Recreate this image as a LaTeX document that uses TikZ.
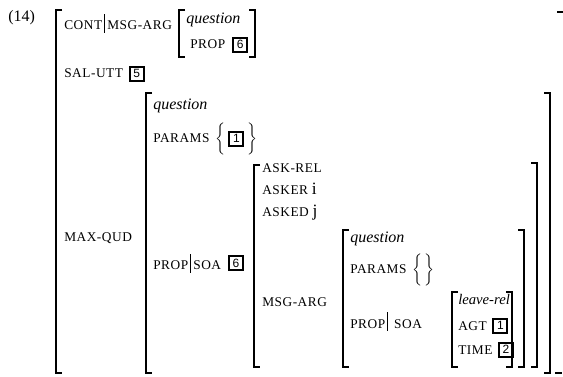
\documentclass[tikz,border=0pt]{standalone}
\usepackage{fontspec}
\setmainfont{Liberation Serif}
\setsansfont{Liberation Sans}
\newfontfamily\featfont[LetterSpace=4]{Liberation Serif}
\usetikzlibrary{positioning}
\newcommand\pth{\,\rule[-2pt]{0.5pt}{14pt}\,}
\newcommand\val[1]{{\rmfamily\fontsize{13}{15}\selectfont #1}}
\newcommand\lbrk[3]{\draw[brk] (#1+6,#2) -| (#1,#3) -- (#1+6,#3);}
\newcommand\rbrk[3]{\draw[brk] (#1-6,#2) -| (#1,#3) -- (#1-6,#3);}
\tikzset{
feat/.style={
    anchor=base west,
    inner sep=0pt,
    font=\featfont\fontsize{10}{12}\selectfont
},
typ/.style={
    anchor=base west,
    inner sep=0pt,
    font=\itshape\fontsize{12}{14}\selectfont
},
tag/.style={
    rectangle,
    draw,
    line width=1.5pt,
    inner sep=1pt,
    minimum size=10.5pt,
    font=\sffamily\fontsize{9}{10}\selectfont
},
brace/.style={
    inner sep=0pt,
    font=\fontsize{11}{13}\selectfont
},
brk/.style={line width=1.5pt}
}

\begin{document}
\begin{tikzpicture}[x=0.75pt, y=-0.75pt]
    \useasboundingbox (0,0) rectangle (563,377);

    % example number and outer matrix
    \node[anchor=base west, inner sep=0pt, font=\fontsize{12}{14}\selectfont] (ex) at (8,22) {(14)};
    \lbrk{56}{10}{373}
    \draw[brk] (557,12) -- (563,12);
    \draw[brk] (555,373) -- (562,373);

    % CONT|MSG-ARG
    \node[feat] (cont) at (64,30) {CONT\pth MSG-ARG};
    \lbrk{179}{10}{57} \rbrk{255}{10}{57}
    \node[typ] (q1) at (186,24) {question};
    \node[feat] (prop1) at (190,49) {PROP};
    \node[tag, right=5pt of prop1] (t6a) {6};

    % SAL-UTT
    \node[feat] (salutt) at (64,78) {SAL-UTT};
    \node[tag, right=4pt of salutt] (t5) {5};

    % MAX-QUD
    \node[feat] (maxqud) at (64,242) {MAX-QUD};
    \lbrk{146}{93}{373} \rbrk{550}{93}{373}
    \node[typ] (q2) at (153,110) {question};
    \node[feat] (params1) at (153,143) {PARAMS};
    \node[brace, right=4pt of params1] (lb1) {$\bigg\{$};
    \node[tag, right=2pt of lb1] (t1a) {1};
    \node[brace, right=2pt of t1a] (rb1) {$\bigg\}$};
    \node[feat] (propsoa1) at (153,270) {PROP\pth SOA};
    \node[tag, right=5pt of propsoa1] (t6b) {6};

    % ask-rel
    \lbrk{254}{165}{367} \rbrk{537}{163}{367}
    \node[feat] (askrel) at (262,173) {ASK-REL};
    \node[feat] (asker) at (262,195) {ASKER \val{i}};
    \node[feat] (asked) at (262,217) {ASKED \val{j}};
    \node[feat] (msgarg) at (262,306) {MSG-ARG};

    % inner question
    \lbrk{343}{230}{367} \rbrk{524}{230}{367}
    \node[typ] (q3) at (350,243) {question};
    \node[feat] (params2) at (350,274) {PARAMS};
    \node[brace, right=4pt of params2] (lb2) {$\bigg\{$};
    \node[brace, right=1pt of lb2] (rb2) {$\bigg\}$};
    \node[feat] (propsoa2) at (350,328) {PROP\pth\ SOA};

    % leave-rel
    \lbrk{452}{292}{367} \rbrk{512}{292}{367}
    \node[typ, font=\itshape\fontsize{11}{13}\selectfont] (leave) at (458,305) {leave-rel};
    \node[feat] (agt) at (458,330) {AGT};
    \node[tag, right=4pt of agt] (t1b) {1};
    \node[feat] (time) at (458,354) {TIME};
    \node[tag, right=4pt of time] (t2) {2};

\end{tikzpicture}
\end{document}
